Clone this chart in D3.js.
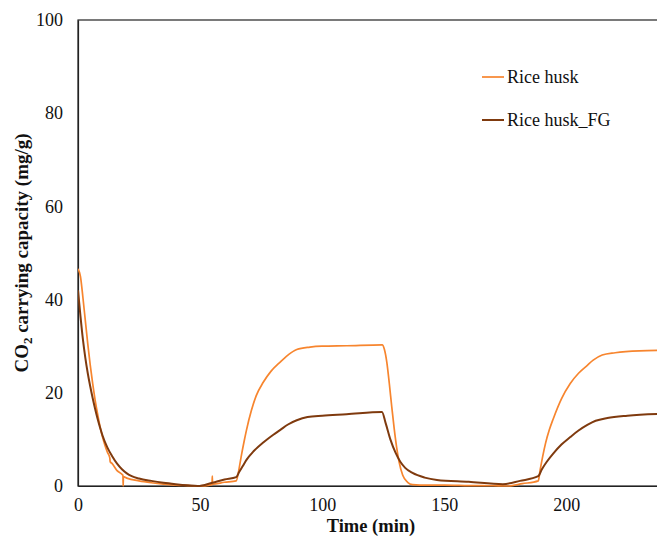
<!DOCTYPE html>
<html>
<head>
<meta charset="utf-8">
<script src="https://cdn.jsdelivr.net/npm/d3@7"></script>
<style>
  body { margin: 0; background: #fff; }
  svg { font-family: "Liberation Serif", "Times New Roman", serif; }
</style>
</head>
<body>
<svg id="chart" width="657" height="538"></svg>
<script>
// values
var seriesNames = ["Rice husk", "Rice husk_FG"];
var xTicks = [0, 50, 100, 150, 200];
var yTicks = [0, 20, 40, 60, 80, 100];

var huskTime = [0, 1, 2, 3, 4, 5, 6, 7, 8, 9, 10, 11, 12, 13, 13.2, 14, 16, 18.4, 18.5, 18.6, 20, 25, 30, 35, 40, 45, 50, 54, 54.9, 55, 55.1, 60, 64.8,
  66, 67, 68, 69, 71, 73, 75.8, 79, 82.8, 86, 89.6, 95, 100, 110, 124.6,
  125.5, 126.5, 127.5, 128.5, 129.5, 130.5, 131.5, 133, 135, 137, 140, 150, 160, 170, 176, 182, 188.5,
  189.3, 190.3, 191.5, 193, 194.7, 198, 201.6, 205, 208.6, 211, 214.7, 220, 230, 240];
var huskVal = [46.6, 45, 40.5, 35.5, 30.5, 26, 22, 18.5, 15.5, 12.8, 10.6, 8.8, 7.3, 6.1, 5.2, 4.8, 3.3, 2.3, 0, 2.0, 1.7, 1.1, 0.7, 0.4, 0.2, 0.1, 0, 0.2, 0.3, 2.1, 0.4, 0.8, 1.1,
  3.8, 6.8, 9.5, 12, 16.2, 19.4, 22.2, 24.6, 26.6, 28.1, 29.3, 29.8, 30, 30.1, 30.3,
  29.3, 26.5, 22, 17, 12.3, 8.3, 5.2, 2.3, 0.8, 0.3, 0.2, 0.2, 0.1, 0.05, 0, 0.5, 1.1,
  3.5, 6.3, 9.2, 12, 14.5, 18.7, 22, 24.2, 25.9, 27, 28.1, 28.6, 29, 29.1];

var fgTime = [0, 1, 2, 3, 4, 5, 6, 7, 8, 9, 10, 12, 14, 16, 18, 20, 22, 25, 30, 35, 40, 45, 49, 55, 60, 64.8,
  66, 67.5, 69, 72, 76, 80, 83, 86, 89.6, 94, 100, 110, 124.5,
  126, 128, 130, 132, 134, 137, 142, 147, 160, 174, 181, 188.5,
  190, 192, 194.7, 198, 201.6, 205, 208.6, 212, 216.8, 225, 240];
var fgVal = [42, 36.5, 31.5, 27.5, 24.2, 21.4, 18.9, 16.6, 14.5, 12.6, 10.9, 8.3, 6.4, 4.8, 3.6, 2.7, 2.1, 1.6, 1.1, 0.7, 0.4, 0.15, 0, 0.7, 1.4, 1.9,
  3, 4.3, 5.6, 7.5, 9.4, 11, 12.1, 13.2, 14.1, 14.8, 15.1, 15.4, 15.9,
  13.5, 9.9, 7.2, 5.2, 3.9, 2.8, 1.8, 1.3, 0.9, 0.4, 1.1, 2.1,
  3.6, 5.2, 7, 8.9, 10.5, 11.9, 13.1, 14, 14.6, 15.1, 15.5];

var colors = ["#f7852e", "#7f3a0e"];

var svg = d3.select("#chart");
var margin = {left: 78, top: 20, bottom: 486, right: 664};

var x = d3.scaleLinear().domain([0, 240]).range([margin.left, margin.right]);
var y = d3.scaleLinear().domain([0, 100]).range([margin.bottom, margin.top]);

svg.append("defs").append("clipPath").attr("id", "plotClip")
  .append("rect").attr("x", margin.left).attr("y", margin.top - 2)
  .attr("width", margin.right - margin.left).attr("height", margin.bottom - margin.top + 4);

// frame (right side runs off the picture)
svg.append("rect").attr("x", margin.left).attr("y", margin.top)
  .attr("width", margin.right - margin.left).attr("height", margin.bottom - margin.top)
  .attr("fill", "none").attr("stroke", "#222").attr("stroke-width", 1.2);

var xAxis = svg.append("g").attr("transform", "translate(0," + margin.bottom + ")")
  .call(d3.axisBottom(x).tickValues(xTicks).tickSize(0).tickPadding(12));
var yAxis = svg.append("g").attr("transform", "translate(" + margin.left + ",0)")
  .call(d3.axisLeft(y).tickValues(yTicks).tickSize(0).tickPadding(15));
[xAxis, yAxis].forEach(function(a) {
  a.select(".domain").attr("stroke", "#222").attr("stroke-width", 1.2);
  a.selectAll("text").attr("font-family", "Liberation Serif").attr("font-size", 18).attr("fill", "#111");
});

var line = d3.line().x(function(d) { return x(d[0]); }).y(function(d) { return y(d[1]); })
  .curve(d3.curveMonotoneX);

var plot = svg.append("g").attr("clip-path", "url(#plotClip)");
plot.append("path").datum(d3.zip(huskTime, huskVal))
  .attr("d", line).attr("fill", "none").attr("stroke", colors[0]).attr("stroke-width", 1.7);
plot.append("path").datum(d3.zip(fgTime, fgVal))
  .attr("d", line).attr("fill", "none").attr("stroke", colors[1]).attr("stroke-width", 2);

// legend
var legend = svg.append("g").attr("transform", "translate(482,77)");
seriesNames.forEach(function(name, i) {
  var g = legend.append("g").attr("transform", "translate(0," + (i * 43) + ")");
  g.append("line").attr("x1", 0).attr("x2", 22).attr("y1", 0).attr("y2", 0)
    .attr("stroke", colors[i]).attr("stroke-width", i == 0 ? 1.7 : 2);
  g.append("text").attr("x", 25).attr("y", 6).text(name)
    .attr("font-size", 18).attr("fill", "#111");
});

// axis titles
svg.append("text").attr("x", (margin.left + margin.right) / 2).attr("y", 532)
  .attr("text-anchor", "middle").attr("font-weight", "bold").attr("font-size", 18.5)
  .attr("fill", "#111").text("Time (min)");

var yt = svg.append("text").attr("transform", "translate(28," + ((margin.top + margin.bottom) / 2) + ") rotate(-90)")
  .attr("text-anchor", "middle").attr("font-weight", "bold").attr("font-size", 19).attr("fill", "#111");
yt.append("tspan").text("CO");
yt.append("tspan").text("2").attr("font-size", 13).attr("dy", 4);
yt.append("tspan").text(" carrying capacity (mg/g)").attr("dy", -4);
</script>
</body>
</html>
